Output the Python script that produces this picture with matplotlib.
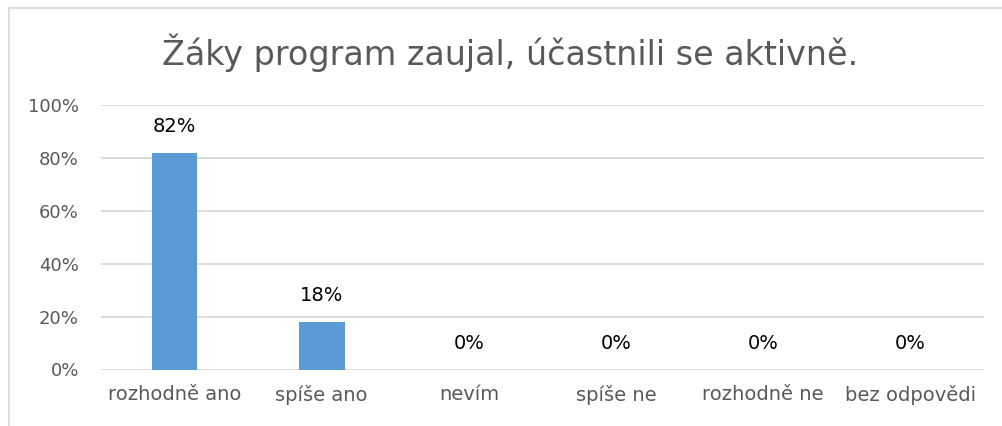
import numpy as np
import matplotlib.pyplot as plt
from matplotlib.patches import Rectangle
from matplotlib.ticker import PercentFormatter

# data
categories = ['rozhodně ano', 'spíše ano', 'nevím', 'spíše ne', 'rozhodně ne', 'bez odpovědi']
values = [0.82, 0.18, 0.0, 0.0, 0.0, 0.0]
title = 'Žáky program zaujal, účastnili se aktivně.'

plt.rcParams['font.family'] = ['DejaVu Sans']

fig = plt.figure(figsize=(10.03, 4.26), dpi=100)
ax = fig.add_axes([101 / 1003, 1 - 369.5 / 426, 883 / 1003, 264.5 / 426])

x = np.arange(len(categories))
ax.bar(x, values, width=0.31, color='#5B9BD5', zorder=3)

for xi, v in zip(x, values):
    ax.annotate(f'{v * 100:.0f}%', (xi, v), xytext=(0, 12), textcoords='offset points',
                ha='center', va='bottom', fontsize=14, color='black')

ax.set_xlim(-0.5, len(categories) - 0.5)
ax.set_ylim(0, 1.0)
ax.set_yticks(np.arange(0, 1.01, 0.2))
ax.yaxis.set_major_formatter(PercentFormatter(1.0, decimals=0))
ax.set_xticks(x)
ax.set_xticklabels(categories)
ax.tick_params(axis='both', length=0, labelcolor='#595959')
ax.tick_params(axis='y', pad=16, labelsize=13)
ax.tick_params(axis='x', pad=11, labelsize=14)
ax.grid(axis='y', color='#D9D9D9', linewidth=1.3, zorder=0)
for s in ax.spines.values():
    s.set_visible(False)

fig.text(0.509, 1 - 65 / 426, title, ha='center', va='baseline', fontsize=24, color='#595959')

# chart frame (left and top edges visible)
frame = Rectangle((9 / 1003, -0.5), 2, 1.5 - 8 / 426, transform=fig.transFigure,
                  fill=False, edgecolor='#D9D9D9', linewidth=1.2, clip_on=False)
fig.patches.append(frame)

fig.savefig('out.png', dpi=100)
